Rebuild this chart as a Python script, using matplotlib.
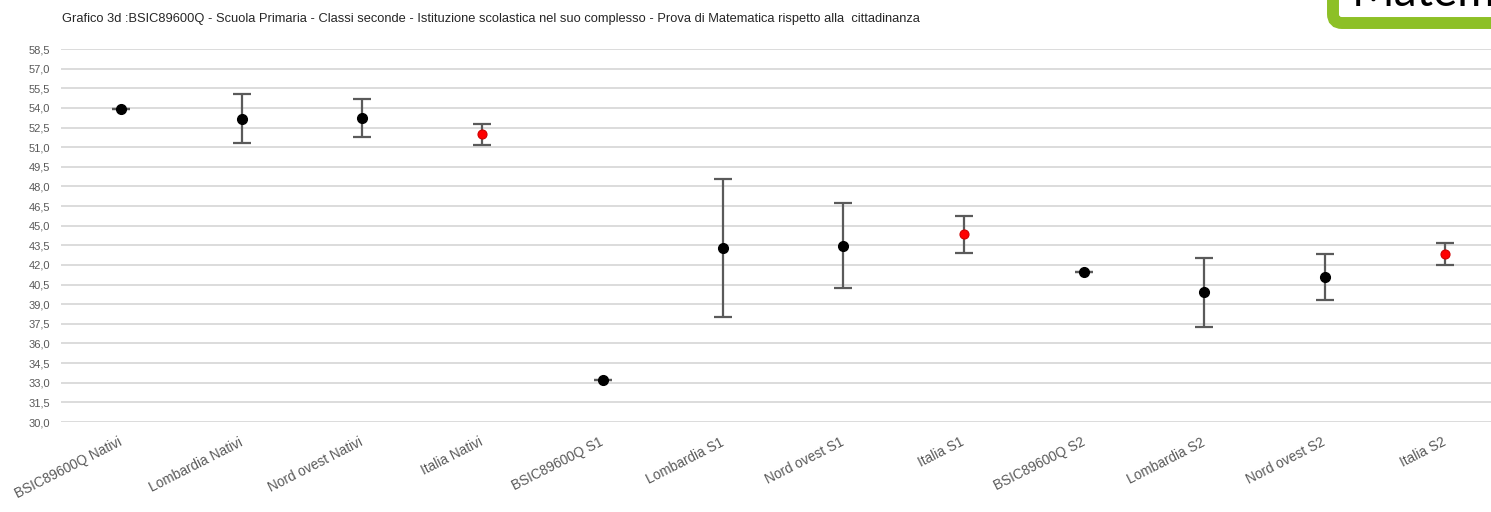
import matplotlib
matplotlib.use("Agg")
import matplotlib.pyplot as plt
from matplotlib.patches import FancyBboxPatch

categories = ["BSIC89600Q Nativi", "Lombardia Nativi", "Nord ovest Nativi", "Italia Nativi",
              "BSIC89600Q S1", "Lombardia S1", "Nord ovest S1", "Italia S1",
              "BSIC89600Q S2", "Lombardia S2", "Nord ovest S2", "Italia S2"]
means = [53.9, 53.15, 53.2, 52.0, 33.2, 43.3, 43.45, 44.35, 41.45, 39.9, 41.1, 42.85]
err_low = [0.0, 1.85, 1.45, 0.8, 0.0, 5.25, 3.2, 1.4, 0.0, 2.65, 1.75, 0.85]
err_high = [0.0, 1.9, 1.45, 0.8, 0.0, 5.25, 3.25, 1.4, 0.0, 2.65, 1.75, 0.85]
is_italia = [False, False, False, True] * 3
yticks = [30.0 + 1.5 * i for i in range(20)]
title = ("Grafico 3d :BSIC89600Q - Scuola Primaria - Classi seconde - Istituzione scolastica "
         "nel suo complesso - Prova di Matematica rispetto alla  cittadinanza")

W, H = 1491, 512
fig = plt.figure(figsize=(W / 100, H / 100), dpi=100)
fig.patch.set_facecolor("white")

left_px, right_px, top_px, bottom_px = 61, W, 49, 422
ax = fig.add_axes([left_px / W, (H - bottom_px) / H, (right_px - left_px) / W, (bottom_px - top_px) / H])
ax.set_facecolor("white")

x = list(range(len(categories)))
ax.errorbar(x, means, yerr=[err_low, err_high], fmt="none", ecolor="#5a5a5a",
            elinewidth=1.6, capsize=6.5, capthick=1.6, zorder=3)
for xi, m, it in zip(x, means, is_italia):
    if it:
        ax.plot(xi, m, "o", ms=6.5, mfc="#ff0000", mec="#d00000", mew=0.8, zorder=4)
    else:
        ax.plot(xi, m, "o", ms=7, mfc="black", mec="black", zorder=4)

ax.set_ylim(30, 58.5)
ax.set_xlim(-0.5, 11.5 - (1505 - 1491) / 120.3)
ax.set_yticks(yticks)
ax.set_yticklabels([f"{v:.1f}".replace(".", ",") for v in yticks])
ax.yaxis.grid(True, color="#d9d9d9", lw=1.3)
ax.set_axisbelow(True)
for s in ax.spines.values():
    s.set_visible(False)
ax.tick_params(axis="y", length=0, pad=8, labelsize=8, labelcolor="#595959")
ax.set_xticks(x)
ax.set_xticklabels(categories, rotation=27, ha="right", va="center",
                   rotation_mode="anchor", fontsize=9.8, color="#595959")
ax.tick_params(axis="x", length=0, pad=14)
for lab in ax.get_yticklabels() + ax.get_xticklabels():
    lab.set_fontfamily("Liberation Sans")

fig.text(62 / W, 1 - 19 / H, title, fontsize=9.3, color="#262626",
         family="Liberation Sans", va="center", ha="left")

# overlay for the cut-off header box
ov = fig.add_axes([0, 0, 1, 1], zorder=10)
ov.set_xlim(0, W)
ov.set_ylim(H, 0)
ov.axis("off")
ov.patch.set_alpha(0)
box = FancyBboxPatch((1333, -100), 400, 123, boxstyle="round,pad=0,rounding_size=9",
                     fc="white", ec="#8dc026", lw=8.6)
ov.add_patch(box)
ov.text(1352, 6, "Matematica", fontsize=33, family="Lato", color="black",
        ha="left", va="baseline", clip_on=True)

fig.savefig("out.png", dpi=100, facecolor="white")
